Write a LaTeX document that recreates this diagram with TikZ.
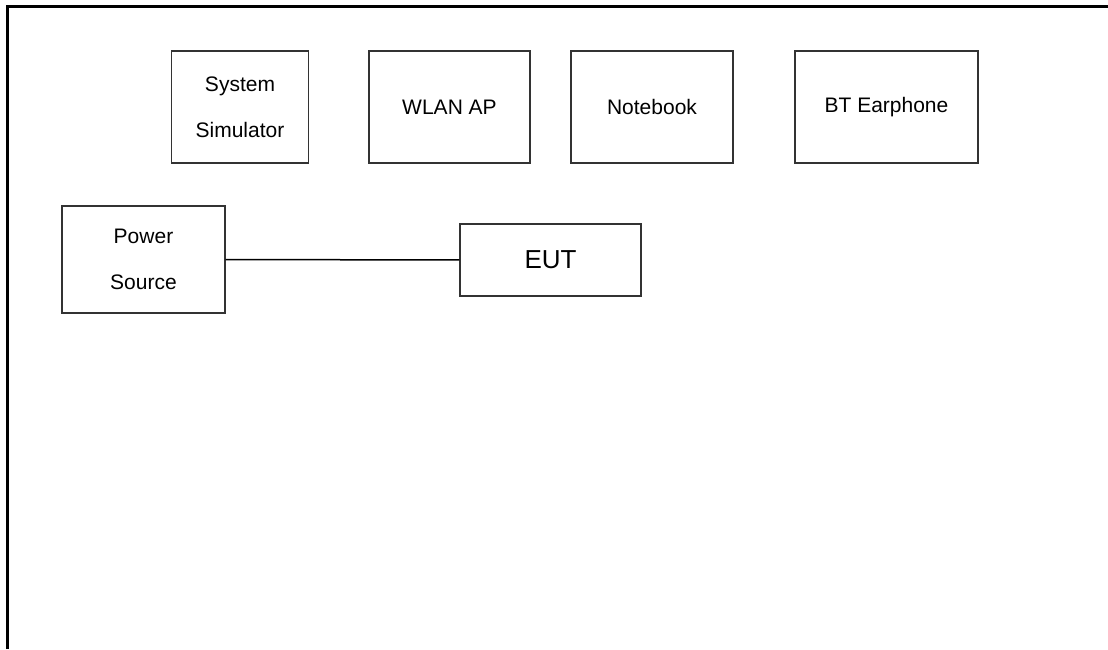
\documentclass[tikz,border=0pt]{standalone}
\usepackage{fontspec}
\setmainfont{Liberation Sans}
\usetikzlibrary{positioning}

\tikzset{
    unit/.style={draw=black!80, line width=1.2pt, fill=white, align=center, inner sep=0pt,
        font=\fontsize{21}{46}\selectfont},
}

\begin{document}
\begin{tikzpicture}[x=1pt, y=-1pt]
        \useasboundingbox (0,0) rectangle (1108,649);
        \draw[line width=3pt, black] (7,649) -- (7,6) -- (1108,6);

        \node[unit, minimum width=137pt, minimum height=112pt] (sim) at (240,107) {System\\Simulator};
        \node[unit, minimum width=161pt, minimum height=112pt] (wlan) at (449.5,107) {WLAN AP};
        \node[unit, minimum width=162pt, minimum height=112pt] (nb) at (652,107) {Notebook};
        \node[unit, minimum width=183pt, minimum height=112pt] (bt) at (886.5,107) {BT Earphone};

        \node[unit, minimum width=163pt, minimum height=107pt] (ps) at (143.5,259.5) {Power\\Source};
        \node[unit, minimum width=181pt, minimum height=72pt, font=\fontsize{26}{30}\selectfont] (eut) at (550.5,260) {EUT};

        \draw[line width=1.5pt, black] (ps) -- (eut);
    \end{tikzpicture}
\end{document}
